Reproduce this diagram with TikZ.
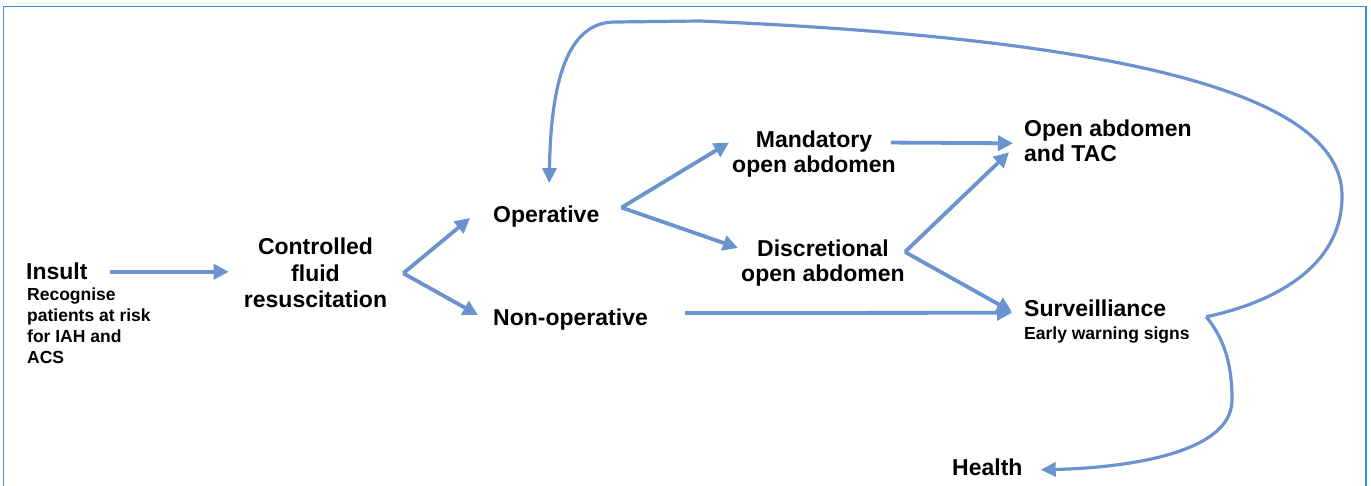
\documentclass[tikz,border=0pt]{standalone}
\usepackage{fontspec}
\setmainfont{Liberation Sans}
\usetikzlibrary{arrows.meta,calc}
\definecolor{arrowblue}{HTML}{6A93CF}
\definecolor{frameblue}{HTML}{3A8DDE}
\tikzset{
  big/.style={inner sep=0pt, font=\fontsize{23}{25}\selectfont\bfseries},
  bigwide/.style={inner sep=0pt, font=\fontsize{23}{26.5}\selectfont\bfseries},
  small/.style={inner sep=0pt, font=\fontsize{17.5}{20.7}\selectfont\bfseries},
  arr/.style={draw=arrowblue, line width=3.8pt, -{Triangle[length=15pt,width=15pt]}},
  loop/.style={draw=arrowblue, line width=3.2pt, -{Triangle[length=15pt,width=14pt]}},
  frame/.style={draw=frameblue, line width=1.6pt}
}
\begin{document}
\begin{tikzpicture}[x=1pt,y=-1pt]
\useasboundingbox (0,0) rectangle (1371,486);
\draw[frame] (3.5,486) -- (3.5,6.5) -- (1366,6.5) -- (1366,486);

\node[big, anchor=base west] (insult) at (26,280) {Insult};
\node[small, anchor=base west, align=left] (insultsub) at (27,363) {Recognise\\patients at risk\\for IAH and\\ACS};
\node[bigwide, anchor=base, align=center] (ctrl) at (315.5,308) {Controlled\\fluid\\resuscitation};
\node[big, anchor=base west] (oper) at (493,223) {Operative};
\node[big, anchor=base west] (nonop) at (493,326) {Non-operative};
\node[big, anchor=base, align=center] (mand) at (814,173) {Mandatory\\open abdomen};
\node[big, anchor=base, align=center] (disc) at (823,282) {Discretional\\open abdomen};
\node[big, anchor=base west, align=left] (tac) at (1024,162) {Open abdomen\\and TAC};
\node[big, anchor=base west] (surv) at (1024,317) {Surveilliance};
\node[small, anchor=base west] (ews) at (1024,340) {Early warning signs};
\node[big, anchor=base west] (health) at (952,475) {Health};

\coordinate (v1) at ($(ctrl.east)+(16,0)$);
\coordinate (v2) at ($(oper.east)+(22,-9.5)$);
\coordinate (v3) at ($(disc.east)+(0,-11.6)$);
\coordinate (cusp) at ($(surv.east)+(40,8)$);

\draw[arr] ($(insult.east)+(22,0)$) -- ($(insult.east -| ctrl.west)+(-15,0)$);
\draw[arr] (v1) -- ($(oper.west)+(-23,1)$);
\draw[arr] (v1) -- ($(nonop.west)+(-15,-5)$);
\draw[arr] (v2) -- ($(mand.west)+(-3,-12)$);
\draw[arr] (v2) -- ($(disc.west)+(-3,-15.6)$);
\draw[arr] ($(mand.east)+(-5,-12)$) -- ($(tac.west)+(-11,2)$);
\draw[arr] (v3) -- ($(tac.west)+(-15,11)$);
\draw[arr] (v3) -- ($(surv.west)+(-12,3)$);
\draw[arr] ($(nonop.east)+(37,-7)$) -- ($(surv.west)+(-12,4)$);

\draw[loop] (cusp) .. controls (1285,300) and (1343,260) .. (1342,195)
  .. controls (1341,100) and (1150,40) .. (700,21) -- (615,22)
  .. controls (572,22) and (551,70) .. ($(oper.north)+(3,-23)$);
\draw[loop] (cusp) .. controls (1225,340) and (1232,365) .. (1232,400)
  .. controls (1232,455) and (1120,468) .. ($(health.east)+(18,3)$);
\end{tikzpicture}
\end{document}
